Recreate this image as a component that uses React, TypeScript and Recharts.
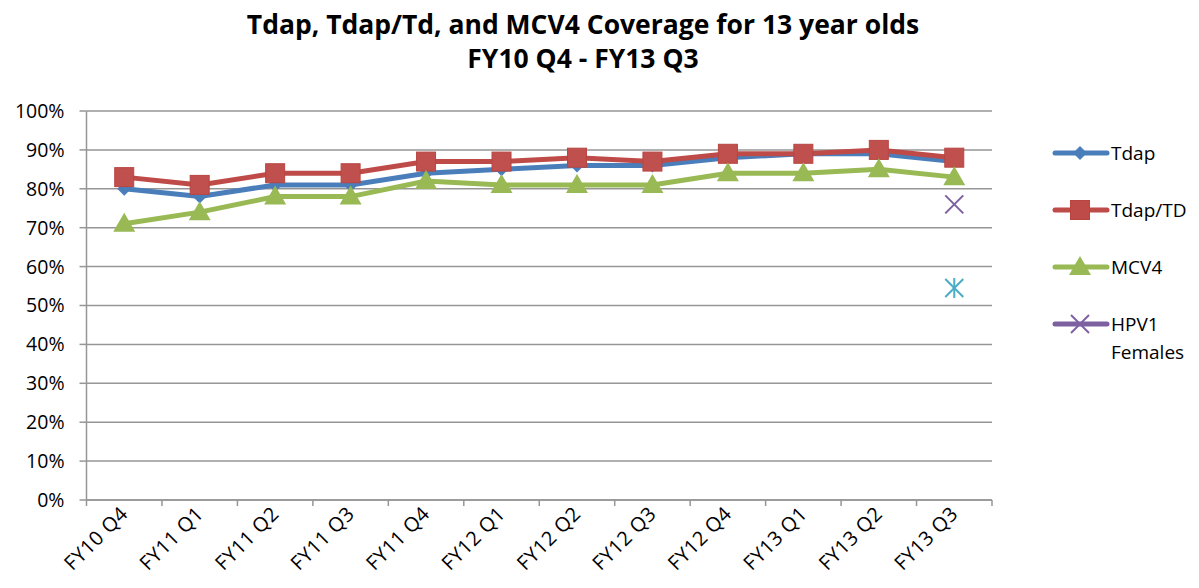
import React from 'react';
import { LineChart, Line, XAxis, YAxis, CartesianGrid } from 'recharts';

const categories = [
  'FY10 Q4', 'FY11 Q1', 'FY11 Q2', 'FY11 Q3', 'FY11 Q4', 'FY12 Q1',
  'FY12 Q2', 'FY12 Q3', 'FY12 Q4', 'FY13 Q1', 'FY13 Q2', 'FY13 Q3',
];
const tdap = [80, 78, 81, 81, 84, 85, 86, 86, 88, 89, 89, 87];
const tdapTd = [83, 81, 84, 84, 87, 87, 88, 87, 89, 89, 90, 88];
const mcv4 = [71, 74, 78, 78, 82, 81, 81, 81, 84, 84, 85, 83];
const hpv1Females = [null, null, null, null, null, null, null, null, null, null, null, 76];
const hpvOther = [null, null, null, null, null, null, null, null, null, null, null, 54.5];
const yTicks = [0, 10, 20, 30, 40, 50, 60, 70, 80, 90, 100];

const data = categories.map((c, i) => ({
  cat: c,
  tdap: tdap[i],
  tdapTd: tdapTd[i],
  mcv4: mcv4[i],
  hpv1: hpv1Females[i],
  hpvOther: hpvOther[i],
}));

const W = 1199;
const H = 588;
const LEFT = 86.5;
const RIGHT = 207;
const TOP = 111;
const XH = 88;
const HALF = (W - LEFT - RIGHT) / categories.length / 2;
const FONT = '"Open Sans", sans-serif';
const GRID = '#969696';

const BLUE = '#4a7ebb';
const RED = '#be4b48';
const GREEN = '#98b954';
const PURPLE = '#7d60a0';
const CYAN = '#4bacc6';

type Shape = 'diamond' | 'square' | 'triangle' | 'x' | 'star';

function Marker({ shape, cx, cy, color }: { shape: Shape; cx: number; cy: number; color: string }) {
  if (shape === 'diamond') {
    const r = 7;
    return <path d={`M${cx},${cy - r}L${cx + r},${cy}L${cx},${cy + r}L${cx - r},${cy}Z`} fill={color} />;
  }
  if (shape === 'square') {
    return <rect x={cx - 9.5} y={cy - 9.5} width={19} height={19} fill={color} stroke="#b84542" strokeWidth={1} />;
  }
  if (shape === 'triangle') {
    return <path d={`M${cx},${cy - 11}L${cx + 11},${cy + 8}L${cx - 11},${cy + 8}Z`} fill={color} />;
  }
  if (shape === 'x') {
    const r = 9;
    return (
      <g stroke={color} strokeWidth={2}>
        <line x1={cx - r} y1={cy - r} x2={cx + r} y2={cy + r} />
        <line x1={cx - r} y1={cy + r} x2={cx + r} y2={cy - r} />
      </g>
    );
  }
  const r = 9;
  return (
    <g stroke={color} strokeWidth={2}>
      <line x1={cx - r} y1={cy - r} x2={cx + r} y2={cy + r} />
      <line x1={cx - r} y1={cy + r} x2={cx + r} y2={cy - r} />
      <line x1={cx} y1={cy - r - 1} x2={cx} y2={cy + r + 1} />
    </g>
  );
}

const makeDot = (shape: Shape, color: string) => (props: any) => {
  const { cx, cy, index, value } = props;
  if (cx == null || cy == null || value == null) return <g key={`d-${shape}-${index}`} />;
  return <Marker key={`d-${shape}-${index}`} shape={shape} cx={cx} cy={cy} color={color} />;
};

const XTick = (props: any) => {
  const { x, y, payload, index } = props;
  const tx = x + 5;
  const ty = y + 15;
  return (
    <g>
      <line x1={x - HALF} y1={y} x2={x - HALF} y2={y + 6} stroke={GRID} strokeWidth={1.5} />
      {index === categories.length - 1 && (
        <line x1={x + HALF} y1={y} x2={x + HALF} y2={y + 6} stroke={GRID} strokeWidth={1.5} />
      )}
      <text
        x={tx}
        y={ty}
        textAnchor="end"
        fontSize={20}
        letterSpacing={0.5}
        fontFamily={FONT}
        fill="#000"
        transform={`rotate(-45, ${tx}, ${ty})`}
      >
        {payload.value}
      </text>
    </g>
  );
};

const legendItems: { label: string[]; color: string; shape: Shape }[] = [
  { label: ['Tdap'], color: BLUE, shape: 'diamond' },
  { label: ['Tdap/TD'], color: RED, shape: 'square' },
  { label: ['MCV4'], color: GREEN, shape: 'triangle' },
  { label: ['HPV1', 'Females'], color: PURPLE, shape: 'x' },
];

function ChartLegend() {
  return (
    <div style={{ position: 'absolute', left: 1052, top: 140, fontFamily: FONT, fontSize: 19, color: '#000' }}>
      {legendItems.map((it) => (
        <div key={it.label[0]} style={{ display: 'flex', alignItems: 'flex-start', height: 57 }}>
          <svg width={59} height={26}>
            <line x1={3} y1={13} x2={55} y2={13} stroke={it.color} strokeWidth={5} strokeLinecap="round" />
            <Marker shape={it.shape} cx={28} cy={13} color={it.color} />
          </svg>
          <div style={{ lineHeight: '28px', marginTop: -1 }}>
            {it.label.map((l) => (
              <div key={l}>{l}</div>
            ))}
          </div>
        </div>
      ))}
    </div>
  );
}

export default function App() {
  return (
    <div style={{ position: 'absolute', left: 0, top: 0, width: W, height: H, background: '#fff' }}>
      <div
        style={{
          position: 'absolute',
          left: 0,
          width: 1166,
          top: 7,
          textAlign: 'center',
          fontFamily: FONT,
          fontWeight: 'bold',
          fontSize: 26.5,
          lineHeight: '34px',
          color: '#000',
        }}
      >
        <div>Tdap, Tdap/Td, and MCV4 Coverage for 13 year olds</div>
        <div>FY10 Q4 - FY13 Q3</div>
      </div>
      <LineChart width={W} height={H} data={data} margin={{ top: TOP, right: RIGHT, left: 0, bottom: 0 }}>
        <CartesianGrid vertical={false} stroke={GRID} strokeWidth={1.5} />
        <XAxis
          dataKey="cat"
          height={XH}
          padding={{ left: HALF, right: HALF }}
          stroke={GRID}
          strokeWidth={1.5}
          tickLine={false}
          tickSize={0}
          tickMargin={0}
          interval={0}
          tick={<XTick />}
        />
        <YAxis
          width={LEFT}
          domain={[0, 100]}
          ticks={yTicks}
          interval={0}
          stroke={GRID}
          strokeWidth={1.5}
          tickSize={7}
          tickMargin={15}
          tickFormatter={(v) => `${v}%`}
          tick={{ fill: '#000', fontSize: 19.5, fontFamily: FONT }}
        />
        <Line dataKey="tdap" stroke={BLUE} strokeWidth={5} dot={makeDot('diamond', BLUE)} activeDot={false} isAnimationActive={false} />
        <Line dataKey="tdapTd" stroke={RED} strokeWidth={5} dot={makeDot('square', '#c0504d')} activeDot={false} isAnimationActive={false} />
        <Line dataKey="mcv4" stroke={GREEN} strokeWidth={5} dot={makeDot('triangle', GREEN)} activeDot={false} isAnimationActive={false} />
        <Line dataKey="hpv1" stroke={PURPLE} strokeWidth={5} dot={makeDot('x', PURPLE)} activeDot={false} isAnimationActive={false} />
        <Line dataKey="hpvOther" stroke={CYAN} strokeWidth={5} dot={makeDot('star', CYAN)} activeDot={false} isAnimationActive={false} />
      </LineChart>
      <ChartLegend />
    </div>
  );
}
